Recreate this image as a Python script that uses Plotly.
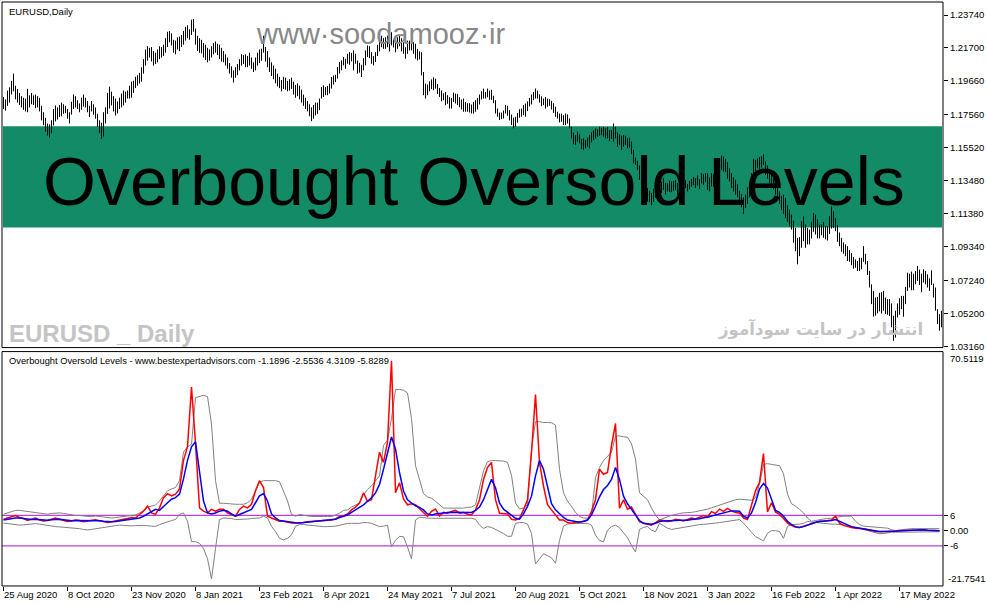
import plotly.graph_objects as go

# ---------------- data ----------------
high = [
1.1865,1.1850,1.1905,1.1925,1.1965,1.2010,1.1935,1.1915,1.1890,1.1870,
1.1860,1.1855,1.1915,1.1875,1.1890,1.1875,1.1880,1.1870,1.1860,1.1810,
1.1770,1.1735,1.1700,1.1695,1.1720,1.1790,1.1812,1.1800,1.1815,1.1830,
1.1820,1.1810,1.1790,1.1770,1.1835,1.1880,1.1870,1.1845,1.1825,1.1860,
1.1880,1.1860,1.1840,1.1810,1.1840,1.1820,1.1800,1.1760,1.1720,1.1705,
1.1770,1.1800,1.1890,1.1929,1.1898,1.1870,1.1855,1.1837,1.1860,1.1886,
1.1905,1.1898,1.1905,1.1935,1.1960,1.1966,1.1990,1.2000,1.2015,1.2050,
1.2100,1.2160,1.2180,1.2170,1.2175,1.2150,1.2140,1.2160,1.2180,1.2175,
1.2190,1.2230,1.2270,1.2275,1.2260,1.2220,1.2215,1.2235,1.2240,1.2250,
1.2275,1.2300,1.2310,1.2285,1.2345,1.2349,1.2290,1.2245,1.2230,1.2220,
1.2200,1.2190,1.2170,1.2160,1.2180,1.2200,1.2210,1.2195,1.2190,1.2170,
1.2150,1.2130,1.2110,1.2075,1.2055,1.2030,1.2050,1.2070,1.2100,1.2130,
1.2125,1.2130,1.2120,1.2140,1.2110,1.2080,1.2110,1.2140,1.2160,1.2165,
1.2245,1.2175,1.2150,1.2110,1.2080,1.2060,1.2040,1.2010,1.1990,1.1970,
1.1990,1.1985,1.1965,1.1975,1.1985,1.1960,1.1940,1.1950,1.1935,1.1910,
1.1880,1.1860,1.1840,1.1820,1.1800,1.1815,1.1830,1.1830,1.1855,1.1927,
1.1937,1.1927,1.1933,1.1948,1.1989,1.1999,1.2003,1.2051,1.2082,1.2092,
1.2113,1.2102,1.2133,1.2143,1.2139,1.2154,1.2133,1.2092,1.2077,1.2065,
1.2106,1.2154,1.2185,1.2180,1.2143,1.2119,1.2143,1.2189,1.2222,1.2246,
1.2230,1.2236,1.2246,1.2230,1.2267,1.2222,1.2215,1.2236,1.2251,1.2230,
1.2205,1.2174,1.2215,1.2215,1.2215,1.2205,1.2195,1.2164,1.2148,1.2143,
1.2020,1.1948,1.1942,1.1962,1.1974,1.1987,1.1979,1.1946,1.1921,1.1905,
1.1888,1.1896,1.1876,1.1863,1.1859,1.1892,1.1886,1.1884,1.1863,1.1849,
1.1855,1.1834,1.1826,1.1826,1.1818,1.1834,1.1845,1.1859,1.1880,1.1900,
1.1917,1.1896,1.1917,1.1905,1.1909,1.1872,1.1845,1.1793,1.1768,1.1768,
1.1781,1.1814,1.1810,1.1783,1.1756,1.1736,1.1742,1.1766,1.1789,1.1793,
1.1814,1.1824,1.1838,1.1859,1.1880,1.1896,1.1917,1.1905,1.1882,1.1869,
1.1855,1.1865,1.1855,1.1851,1.1841,1.1826,1.1804,1.1773,1.1762,1.1762,
1.1752,1.1762,1.1756,1.1731,1.1680,1.1643,1.1628,1.1649,1.1633,1.1604,
1.1608,1.1598,1.1612,1.1628,1.1645,1.1657,1.1670,1.1664,1.1680,1.1674,
1.1680,1.1670,1.1678,1.1659,1.1659,1.1700,1.1680,1.1645,1.1633,1.1624,
1.1628,1.1624,1.1608,1.1612,1.1587,1.1536,1.1488,1.1468,1.1439,1.1391,
1.1344,1.1319,1.1299,1.1282,1.1268,1.1295,1.1319,1.1328,1.1303,1.1340,
1.1361,1.1330,1.1328,1.1346,1.1340,1.1344,1.1350,1.1330,1.1344,1.1330,
1.1330,1.1350,1.1324,1.1344,1.1357,1.1369,1.1361,1.1377,1.1354,1.1392,
1.1385,1.1392,1.1390,1.1365,1.1392,1.1385,1.1402,1.1402,1.1453,1.1501,
1.1495,1.1480,1.1460,1.1422,1.1392,1.1365,1.1350,1.1323,1.1282,1.1262,
1.1241,1.1258,1.1303,1.1330,1.1392,1.1480,1.1474,1.1484,1.1492,1.1497,
1.1509,1.1464,1.1439,1.1414,1.1390,1.1365,1.1350,1.1326,1.1278,1.1251,
1.1258,1.1237,1.1192,1.1165,1.1134,1.1097,1.1052,1.0990,1.0994,1.1093,
1.1124,1.1072,1.1052,1.1041,1.1089,1.1144,1.1134,1.1105,1.1072,1.1072,
1.1089,1.1062,1.1062,1.1124,1.1185,1.1155,1.1113,1.1068,1.1023,1.0990,
1.0961,1.0949,1.0938,1.0913,1.0895,1.0870,1.0856,1.0846,1.0866,1.0866,
1.0938,1.0891,1.0846,1.0784,1.0701,1.0660,1.0619,1.0623,1.0648,1.0652,
1.0660,1.0619,1.0609,1.0609,1.0582,1.0506,1.0537,1.0582,1.0615,1.0629,
1.0629,1.0685,1.0773,1.0767,1.0780,1.0767,1.0784,1.0815,1.0792,1.0767,
1.0794,1.0784,1.0763,1.0738,1.0788,1.0705,1.0681,1.0547,1.0516,1.0537,
]
low = [
1.1790,1.1780,1.1810,1.1830,1.1880,1.1900,1.1850,1.1830,1.1815,1.1800,
1.1785,1.1775,1.1770,1.1800,1.1820,1.1815,1.1795,1.1800,1.1775,1.1720,
1.1690,1.1650,1.1625,1.1612,1.1640,1.1688,1.1713,1.1725,1.1740,1.1745,
1.1760,1.1765,1.1730,1.1700,1.1755,1.1790,1.1800,1.1790,1.1770,1.1785,
1.1805,1.1800,1.1770,1.1740,1.1775,1.1755,1.1730,1.1680,1.1640,1.1605,
1.1620,1.1700,1.1760,1.1793,1.1812,1.1775,1.1750,1.1762,1.1790,1.1800,
1.1812,1.1830,1.1855,1.1855,1.1860,1.1890,1.1920,1.1935,1.1948,1.1960,
1.2010,1.2060,1.2090,1.2110,1.2085,1.2060,1.2070,1.2080,1.2100,1.2110,
1.2120,1.2140,1.2175,1.2205,1.2185,1.2140,1.2130,1.2160,1.2150,1.2175,
1.2190,1.2215,1.2230,1.2220,1.2250,1.2270,1.2190,1.2150,1.2140,1.2135,
1.2110,1.2095,1.2080,1.2090,1.2110,1.2130,1.2140,1.2125,1.2100,1.2085,
1.2080,1.2060,1.2040,1.2010,1.1985,1.1955,1.1985,1.2000,1.2030,1.2060,
1.2070,1.2050,1.2050,1.2060,1.2040,1.2020,1.2030,1.2060,1.2075,1.2090,
1.2140,1.2085,1.2050,1.2020,1.1995,1.1975,1.1950,1.1930,1.1920,1.1900,
1.1915,1.1910,1.1900,1.1905,1.1915,1.1880,1.1860,1.1870,1.1850,1.1830,
1.1810,1.1790,1.1775,1.1745,1.1715,1.1730,1.1750,1.1760,1.1783,1.1855,
1.1865,1.1876,1.1876,1.1886,1.1917,1.1942,1.1958,1.1979,1.2010,1.2030,
1.2061,1.2040,1.2071,1.2065,1.2086,1.2030,1.2071,1.2010,1.2016,1.1989,
1.2030,1.2061,1.2113,1.2106,1.2071,1.2061,1.2082,1.2119,1.2148,1.2174,
1.2164,1.2164,1.2174,1.2148,1.2185,1.2172,1.2143,1.2164,1.2180,1.2148,
1.2133,1.2102,1.2133,1.2154,1.2154,1.2133,1.2102,1.2092,1.2098,1.1999,
1.1876,1.1855,1.1876,1.1900,1.1913,1.1907,1.1917,1.1884,1.1865,1.1838,
1.1845,1.1814,1.1822,1.1793,1.1793,1.1834,1.1824,1.1814,1.1801,1.1787,
1.1773,1.1773,1.1773,1.1769,1.1762,1.1762,1.1773,1.1787,1.1818,1.1849,
1.1855,1.1855,1.1863,1.1847,1.1847,1.1826,1.1762,1.1742,1.1721,1.1727,
1.1731,1.1762,1.1748,1.1719,1.1690,1.1670,1.1680,1.1705,1.1736,1.1742,
1.1752,1.1742,1.1777,1.1806,1.1818,1.1845,1.1855,1.1855,1.1830,1.1808,
1.1814,1.1793,1.1804,1.1810,1.1787,1.1766,1.1742,1.1731,1.1707,1.1711,
1.1690,1.1690,1.1700,1.1670,1.1608,1.1571,1.1567,1.1587,1.1577,1.1542,
1.1536,1.1546,1.1556,1.1546,1.1583,1.1596,1.1608,1.1618,1.1624,1.1628,
1.1618,1.1608,1.1608,1.1591,1.1604,1.1587,1.1608,1.1556,1.1567,1.1536,
1.1556,1.1567,1.1546,1.1550,1.1509,1.1453,1.1443,1.1412,1.1350,1.1278,
1.1262,1.1237,1.1216,1.1212,1.1192,1.1212,1.1237,1.1254,1.1231,1.1268,
1.1288,1.1258,1.1278,1.1274,1.1274,1.1282,1.1288,1.1258,1.1282,1.1272,
1.1278,1.1299,1.1278,1.1291,1.1307,1.1317,1.1299,1.1315,1.1293,1.1328,
1.1319,1.1336,1.1287,1.1278,1.1309,1.1309,1.1319,1.1323,1.1365,1.1412,
1.1402,1.1398,1.1357,1.1340,1.1299,1.1278,1.1258,1.1241,1.1212,1.1179,
1.1138,1.1175,1.1200,1.1241,1.1288,1.1371,1.1402,1.1422,1.1418,1.1426,
1.1443,1.1381,1.1357,1.1328,1.1307,1.1291,1.1258,1.1233,1.1200,1.1165,
1.1138,1.1113,1.1089,1.1062,1.1041,1.0959,1.0907,1.0825,1.0876,1.0928,
1.0969,1.0928,1.0949,1.0949,1.0986,1.1027,1.1010,1.0986,1.0986,1.1006,
1.0990,1.0980,1.0973,1.1014,1.1047,1.1052,1.1031,1.0965,1.0938,1.0903,
1.0891,1.0876,1.0846,1.0841,1.0819,1.0798,1.0804,1.0784,1.0784,1.0794,
1.0841,1.0825,1.0759,1.0681,1.0578,1.0500,1.0506,1.0520,1.0533,1.0520,
1.0537,1.0516,1.0512,1.0504,1.0434,1.0350,1.0370,1.0495,1.0512,1.0547,
1.0500,1.0578,1.0660,1.0681,1.0664,1.0664,1.0701,1.0722,1.0697,1.0652,
1.0712,1.0701,1.0681,1.0660,1.0697,1.0619,1.0537,1.0454,1.0413,1.0434,
]

# oscillator values, one every second bar
osc_red = [
4.5,5.0,5.5,6.0,5.2,4.8,4.0,4.5,5.0,4.2, 3.8,4.0,4.6,5.0,4.5,4.0,3.6,3.8,4.2,4.0,
3.5,3.8,4.0,4.3,3.9,3.6,3.2,3.5,3.8,4.0, 4.4,4.8,5.2,5.0,6.4,
7.7,9.7,7.0,6.4,9.0, 13.0,14.6,13.7,14.4,16.4, 27.7,33.0,56.5,34.4,9.0, 7.7,7.0,8.4,7.7,8.4,
8.4,7.0,6.4,5.7,8.4, 9.7,9.0,10.4,15.7,19.7, 17.0,5.7,5.0,4.4,3.7, 3.7,3.4,3.0,3.0,3.0,
3.2,3.5,3.6,3.8,4.0,4.1,4.2,
4.2,4.6,5.6,5.8,6.6,8.2,9.3,10.9,14.9,11.6,
12.2,21.6,30.9,26.9,34.9,66.9,14.9,18.9,12.5,10.2,
10.6,10.2,8.5,7.2,5.6,7.6,8.5,5.8,7.2,6.9,
7.6,8.0,6.9,7.2,6.5,6.2,8.2,12.2,20.2,24.9,
26.9,12.2,6.9,6.6,6.6,4.5,4.2,4.9,8.2,12.2,
30.9,53.6,26.9,17.6,10.2,8.2,6.2,4.2,4.2,3.2,
2.9,3.3,3.3,3.8,4.2,7.6,12.2,24.2,22.2,22.9,
33.6,42.2,8.9,12.2,8.5,9.3,6.6,3.6,2.9,2.5,
2.2,3.2,4.2,
4.0,3.6,3.8,4.5,4.2,3.8,4.4,5.0,4.6,5.2,6.0,5.4,7.5,6.8,8.5,7.6,8.8,7.8,7.2,
7.0,5.0,4.4,9.7,15.7,19.0,30.4,7.4,11.0,7.4, 6.4,4.8,3.0,2.1,1.4,1.3,1.8,2.4,3.0,3.4,
3.7,3.7,4.0,4.2,5.7,3.0,2.1,1.6,1.3,1.0, 1.0,0.8,0.4,0.0,-0.3,-0.4,-0.3,-0.2,-0.3,-0.2,
0.0,0.0,0.2,0.4,0.4,0.4,0.4,0.2,0.2,0.1,0.0,
]
osc_blue = [
4.2,4.5,4.8,5.0,5.0,4.8,4.5,4.4,4.5,4.4, 4.2,4.1,4.3,4.5,4.5,4.3,4.0,3.9,4.0,4.0,
3.8,3.8,3.9,4.0,3.9,3.7,3.5,3.5,3.6,3.8, 4.0,4.3,4.6,4.8,5.0,
5.7,6.6,7.4,8.4,8.0, 9.7,11.0,12.4,13.0,14.4, 20.4,27.7,33.0,35.0,23.7, 11.7,7.0,6.6,7.0,7.7,
8.0,7.7,6.6,5.7,6.4, 7.0,7.7,8.4,11.0,13.7, 14.6,11.7,6.6,5.0,4.0, 3.7,3.4,3.2,3.1,3.0,
3.1,3.3,3.5,3.7,3.9,4.0,4.2,
4.2,4.5,5.2,5.6,6.2,7.2,8.2,8.9,10.2,11.6,
12.9,14.9,18.2,24.2,30.9,36.9,32.2,22.9,15.6,12.2,
10.9,9.8,9.2,8.2,6.6,6.2,6.6,6.9,6.9,7.2,
7.3,7.3,7.2,7.2,7.2,7.2,8.0,9.3,12.2,16.0,
20.2,16.9,10.9,8.5,7.2,6.1,4.9,4.5,6.6,9.6,
13.6,21.6,27.6,24.2,17.6,10.6,8.2,6.6,5.2,4.2,
3.8,3.6,3.4,3.6,4.2,6.2,9.6,13.3,16.2,17.8,
20.2,24.9,20.2,13.6,10.6,8.5,6.2,4.0,2.9,2.6,
2.5,2.9,3.6,
3.8,3.8,3.8,4.0,4.1,4.0,4.1,4.4,4.5,4.7,5.1,5.3,5.8,6.2,6.8,7.2,7.6,7.8,7.8,
7.7,5.7,5.0,7.0,11.0,16.4,18.6,16.8,12.0,8.0, 7.2,5.7,3.7,2.4,1.6,1.3,1.6,2.2,2.9,3.3,
3.6,3.7,3.7,4.0,4.4,3.7,3.0,2.0,1.6,1.3, 1.0,0.9,0.6,0.2,0.0,-0.3,-0.3,-0.3,-0.3,-0.2,
0.0,0.1,0.2,0.4,0.4,0.4,0.4,0.2,0.2,0.1,0.0,
]
band_up = [
6.5,7.0,7.5,8.0,8.0,7.8,7.5,7.2,7.0,6.8, 6.5,6.5,6.8,7.0,7.0,6.8,6.5,6.2,6.0,6.0,
5.8,5.6,5.5,5.8,5.6,5.4,5.2,5.0,5.2,5.4, 5.6,5.8,6.0,6.2,7.0,
7.7,9.3,9.7,10.1,11.7, 13.7,15.7,16.4,17.0,19.7, 31.0,33.0,34.0,52.4,53.0, 53.3,52.8,42.0,19.7,10.8,
10.8,10.6,10.6,10.4,10.4, 10.4,11.0,12.4,15.7,19.0, 19.7,19.7,19.7,19.7,19.3, 15.7,11.7,6.4,5.7,6.4,
6.0,5.8,5.6,5.5,5.5,5.6,5.6,
5.6,6.2,6.9,8.0,8.2,9.3,10.0,10.9,14.2,16.2,
17.6,19.6,21.6,33.6,35.6,44.2,55.6,55.6,55.3,54.2,
44.2,25.6,19.6,14.6,13.3,12.8,11.6,10.2,8.9,8.9,
8.9,9.0,8.9,8.9,9.2,9.3,10.2,17.6,23.6,27.2,
27.6,27.6,27.6,27.4,26.9,21.8,10.9,8.6,8.9,10.2,
32.2,42.9,42.9,42.6,42.6,42.5,41.6,24.2,14.9,11.6,
9.6,7.2,5.6,5.0,4.9,6.2,20.9,24.9,27.6,29.3,
30.9,37.3,37.3,37.0,36.8,34.2,28.2,14.9,13.6,12.2,
8.9,6.2,4.2,
5.0,5.5,6.0,6.5,6.8,7.0,7.0,7.2,7.5,7.8,8.0,8.5,9.0,9.5,10.0,10.5,11.0,11.8,12.2,
12.4,12.2,12.1,12.0,13.0,18.4,26.1,26.4,26.1,26.0, 25.6,22.4,14.4,10.6,9.7,8.4,7.0,5.0,3.7,4.0,
4.4,4.6,4.8,4.9,5.3,5.6,5.7,5.7,5.7,3.7, 2.4,1.8,1.7,1.7,1.6,1.5,1.4,1.0,0.4,0.0,
0.3,0.5,0.6,0.8,0.8,0.8,0.8,0.8,0.8,0.8,0.8,
]
band_dn = [
3.0,2.8,2.5,2.3,2.2,2.3,2.5,2.6,2.8,2.6, 2.3,2.0,1.8,1.6,1.5,1.4,1.3,1.2,1.0,0.8,
0.5,0.3,0.5,0.8,1.0,1.2,1.5,1.8,2.0,2.2, 2.0,1.8,1.9,2.0,2.1,
2.1,2.0,1.8,1.7,2.4, 3.0,3.7,4.0,4.4,6.4, 7.0,3.7,-4.3,-4.3,-5.0, -7.0,-11.0,-19.0,-7.0,4.4,
5.0,5.0,4.8,4.4,4.4, 4.4,4.6,4.8,5.0,5.0, 5.7,5.0,1.7,-0.3,-3.0, -3.6,-3.0,-1.6,1.7,2.4,
2.4,2.2,2.0,1.8,1.7,1.6,1.6,
1.6,1.8,2.1,2.5,2.9,2.9,2.9,2.9,3.2,3.2,
2.9,2.2,1.6,1.8,2.2,-6.4,-3.8,-2.2,-2.4,-6.4,
-11.1,4.2,5.3,5.2,4.9,4.9,4.9,4.9,4.9,4.9,
4.9,4.9,4.9,4.9,4.9,4.9,4.5,2.2,0.9,1.6,
1.3,0.5,-0.2,-1.1,-2.2,-2.2,2.9,3.2,3.2,2.6,
-1.1,-13.1,-11.1,-9.1,-9.8,-10.7,-12.8,-3.8,1.8,2.6,
2.8,2.9,2.9,2.9,2.9,2.2,-1.8,-3.8,-4.4,0.2,
1.6,2.2,1.2,-0.8,-2.7,-5.8,-8.4,0.5,1.3,1.6,
0.2,-0.4,2.9,
2.0,1.0,0.5,0.8,1.2,1.5,1.8,2.0,2.2,2.4,2.5,2.6,2.8,3.0,3.2,3.5,3.8,4.0,4.2,
4.4,3.0,1.0,-0.6,-2.3,-3.2,-4.0,-1.0,0.0,0.0, -0.3,-3.0,1.7,2.4,2.4,2.6,2.9,3.7,3.4,3.2,
3.0,2.9,2.8,2.6,2.6,2.5,2.4,2.1,1.7,1.3, 0.8,0.4,0.0,-0.3,-0.7,-1.2,-1.1,-0.8,-0.6,-0.6,
-0.6,-0.6,-0.6,-0.6,-0.5,-0.5,-0.5,-0.5,-0.5,-0.4,-0.4,
]
ind_bar = list(range(0, 470, 2))

tick_bars = [0, 32, 64, 96, 128, 160, 192, 224, 256, 288, 320, 352, 384, 416, 448]
tick_labels = ["25 Aug 2020", "8 Oct 2020", "23 Nov 2020", "8 Jan 2021", "23 Feb 2021",
               "8 Apr 2021", "24 May 2021", "7 Jul 2021", "20 Aug 2021", "5 Oct 2021",
               "18 Nov 2021", "3 Jan 2022", "16 Feb 2022", "1 Apr 2022", "17 May 2022"]
price_ticks = [1.0316, 1.0520, 1.0724, 1.0934, 1.1138, 1.1348, 1.1552, 1.1756, 1.1966, 1.2170, 1.2374]
price_tick_text = ["1.03160", "1.05200", "1.07240", "1.09340", "1.11380", "1.13480",
                   "1.15520", "1.17560", "1.19660", "1.21700", "1.23740"]
osc_ticks = [6, 0, -6]
osc_tick_text = ["6", "0.00", "-6"]
osc_max, osc_min = 70.5119, -21.7541
levels = [6, -6]

assert len(high) == len(low) == 470
for s in (osc_red, osc_blue, band_up, band_dn):
    assert len(s) == len(ind_bar), len(s)

# ---------------- figure ----------------
W, H = 987, 605          # target picture size (positions below are in these pixels)
FIG_H = 610              # page height compensating the viewer's vertical squeeze
def fx(p):
    return p / W
def fy(p):
    return 1 - p / H

FONT = "Liberation Sans, Arial, sans-serif"
fig = go.Figure()

bx, by = [], []
for i, (h, l) in enumerate(zip(high, low)):
    bx += [i, i, None]
    by += [l, h, None]
fig.add_trace(go.Scatter(x=bx, y=by, mode="lines", line=dict(color="black", width=1),
                         xaxis="x", yaxis="y", hoverinfo="skip"))

fig.add_trace(go.Scatter(x=ind_bar, y=band_up, mode="lines", line=dict(color="#808080", width=1),
                         xaxis="x", yaxis="y2", hoverinfo="skip"))
fig.add_trace(go.Scatter(x=ind_bar, y=band_dn, mode="lines", line=dict(color="#808080", width=1),
                         xaxis="x", yaxis="y2", hoverinfo="skip"))
fig.add_trace(go.Scatter(x=ind_bar, y=osc_red, mode="lines", line=dict(color="#FF0000", width=1.5),
                         xaxis="x", yaxis="y2", hoverinfo="skip"))
fig.add_trace(go.Scatter(x=ind_bar, y=osc_blue, mode="lines", line=dict(color="#0000FF", width=1.5),
                         xaxis="x", yaxis="y2", hoverinfo="skip"))

shapes = [
    dict(type="rect", xref="paper", yref="paper", x0=fx(3), x1=fx(942), y0=fy(227), y1=fy(126),
         fillcolor="#138B66", line=dict(width=0), layer="below"),
    dict(type="rect", xref="paper", yref="paper", x0=fx(2), x1=fx(943), y0=fy(347), y1=fy(2),
         line=dict(color="black", width=1), layer="above"),
    dict(type="rect", xref="paper", yref="paper", x0=fx(2), x1=fx(943), y0=fy(585), y1=fy(351),
         line=dict(color="black", width=1), layer="above"),
]
for lv in levels:
    shapes.append(dict(type="line", xref="paper", yref="y2", x0=fx(2), x1=fx(943), y0=lv, y1=lv,
                       line=dict(color="#BB3FE0", width=1.2), layer="below"))

small = dict(family=FONT, size=9.5, color="black")
ann = [
    dict(text="EURUSD,Daily", x=fx(7), y=fy(11), xref="paper", yref="paper",
         xanchor="left", yanchor="middle", showarrow=False, font=small),
    dict(text="Overbought Oversold Levels - www.bestexpertadvisors.com -1.1896 -2.5536 4.3109 -5.8289",
         x=fx(7), y=fy(360), xref="paper", yref="paper",
         xanchor="left", yanchor="middle", showarrow=False,
         font=dict(family=FONT, size=9.3, color="black")),
    dict(text="www·soodamooz·ir", x=fx(381), y=fy(34), xref="paper", yref="paper",
         xanchor="center", yanchor="middle", showarrow=False,
         font=dict(family=FONT, size=29, color="#888888")),
    dict(text="Overbought Oversold Levels", x=fx(474), y=fy(181), xref="paper", yref="paper",
         xanchor="center", yanchor="middle", showarrow=False,
         font=dict(family=FONT, size=68, color="black")),
    dict(text="<b>EURUSD _ Daily</b>", x=fx(7), y=fy(333), xref="paper", yref="paper",
         xanchor="left", yanchor="middle", showarrow=False,
         font=dict(family=FONT, size=24, color="#C4C4C4")),
    dict(text="<b>انتشار در سایت سودآموز</b>", x=fx(925), y=fy(328), xref="paper", yref="paper",
         xanchor="right", yanchor="middle", showarrow=False,
         font=dict(family="DejaVu Sans, sans-serif", size=16.6, color="#C4C4C4")),
    dict(text=f"{osc_max:.4f}", x=fx(948), y=fy(358), xref="paper", yref="paper",
         xanchor="left", yanchor="middle", showarrow=False, font=small),
    dict(text=f"{osc_min:.4f}", x=fx(946), y=fy(578), xref="paper", yref="paper",
         xanchor="left", yanchor="middle", showarrow=False, font=small),
]
for b, lab in zip(tick_bars, tick_labels):
    ann.append(dict(text=lab, x=b, y=fy(594), xref="x", yref="paper", xanchor="left",
                    yanchor="middle", showarrow=False, xshift=-2, font=small))

fig.update_layout(
    width=W, height=FIG_H, autosize=False, margin=dict(l=0, r=0, t=0, b=0),
    paper_bgcolor="white", plot_bgcolor="white", showlegend=False,
    xaxis=dict(domain=[fx(2), fx(943)], range=[-0.75, 469.75], anchor="y2",
               showgrid=False, zeroline=False, showline=False,
               tickmode="array", tickvals=tick_bars, ticks="outside", ticklen=4,
               tickcolor="black", showticklabels=False),
    yaxis=dict(domain=[fy(347), fy(2)], range=[1.0308, 1.24549], side="right", anchor="x",
               showgrid=False, zeroline=False, showline=False,
               tickmode="array", tickvals=price_ticks, ticktext=price_tick_text,
               ticks="outside", ticklen=4, tickcolor="black", tickfont=small),
    yaxis2=dict(domain=[fy(585), fy(351)], range=[osc_min, osc_max], side="right", anchor="x",
                showgrid=False, zeroline=False, showline=False,
                tickmode="array", tickvals=osc_ticks, ticktext=osc_tick_text,
                ticks="outside", ticklen=4, tickcolor="black", tickfont=small),
    shapes=shapes, annotations=ann,
)

fig.write_html("out.html",
               config={"displayModeBar": False, "responsive": False},
               post_script="document.body.style.margin='0';document.body.style.overflow='hidden';")
